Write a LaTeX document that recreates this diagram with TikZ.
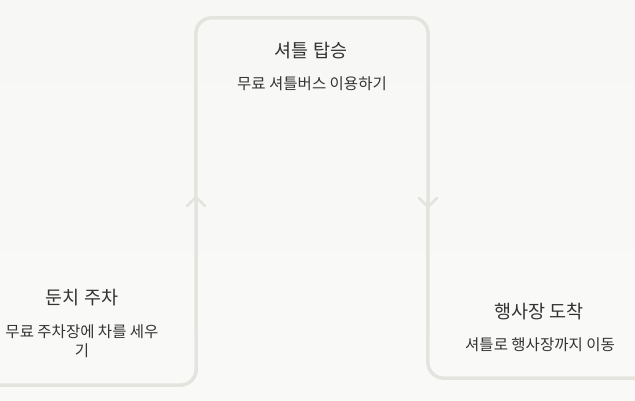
\documentclass[tikz,border=0pt]{standalone}
\usepackage{fontspec}
\setmainfont{Noto Sans CJK KR}
\definecolor{bgc}{HTML}{F7F7F5}
\definecolor{edgec}{HTML}{E4E4DE}
\definecolor{ink}{HTML}{333333}
\begin{document}
\begin{tikzpicture}[x=1pt,y=-1pt,
  stepbox/.style={inner sep=0pt, minimum width=232pt},
  edge/.style={draw=edgec, line width=3.5pt, rounded corners=16pt},
  ttl/.style={text=ink, inner sep=0pt, font=\fontsize{18.5}{22}\selectfont},
  sub/.style={text=ink, inner sep=0pt, align=center, font=\fontsize{15.5}{19.5}\selectfont},
  chev/.style={draw=edgec, line width=2.5pt, line cap=round, line join=miter}]
\useasboundingbox (0,0) rectangle (635,400);
\clip (0,0) rectangle (635,400);
\shade[top color=bgc, bottom color=bgc!70!white] (0,0) rectangle (635,400);
% boxes (the cards; only their shared outline is drawn)
\node[stepbox, minimum height=485pt] (park) at (80,142.5) {};
\node[stepbox, minimum height=482pt] (ride) at (312,259) {};
\node[stepbox, minimum height=478pt] (arrive) at (544,139) {};
\draw[edge] (park.south west) -- (park.south east) -- (ride.north west)
  -- (ride.north east) -- (arrive.south west) -- (arrive.south east);
% texts
\node[ttl] (parkt) at (82,298) {둔치 주차};
\node[sub] (parkd) at (82,341) {무료 주차장에 차를 세우\\기};
\node[ttl] (ridet) at (311,51) {셔틀 탑승};
\node[sub] (rided) at (312,84) {무료 셔틀버스 이용하기};
\node[ttl] (arrivet) at (539,312) {행사장 도착};
\node[sub] (arrived) at (540,345) {셔틀로 행사장까지 이동};
% chevrons on the shared edges
\coordinate (up) at (196,197);
\coordinate (dn) at (428,207);
\draw[chev] ([xshift=-9pt,yshift=-9pt]up) -- (up) -- ([xshift=9pt,yshift=-9pt]up);
\draw[chev] ([xshift=-9pt,yshift=9pt]dn) -- (dn) -- ([xshift=9pt,yshift=9pt]dn);
\end{tikzpicture}
\end{document}
